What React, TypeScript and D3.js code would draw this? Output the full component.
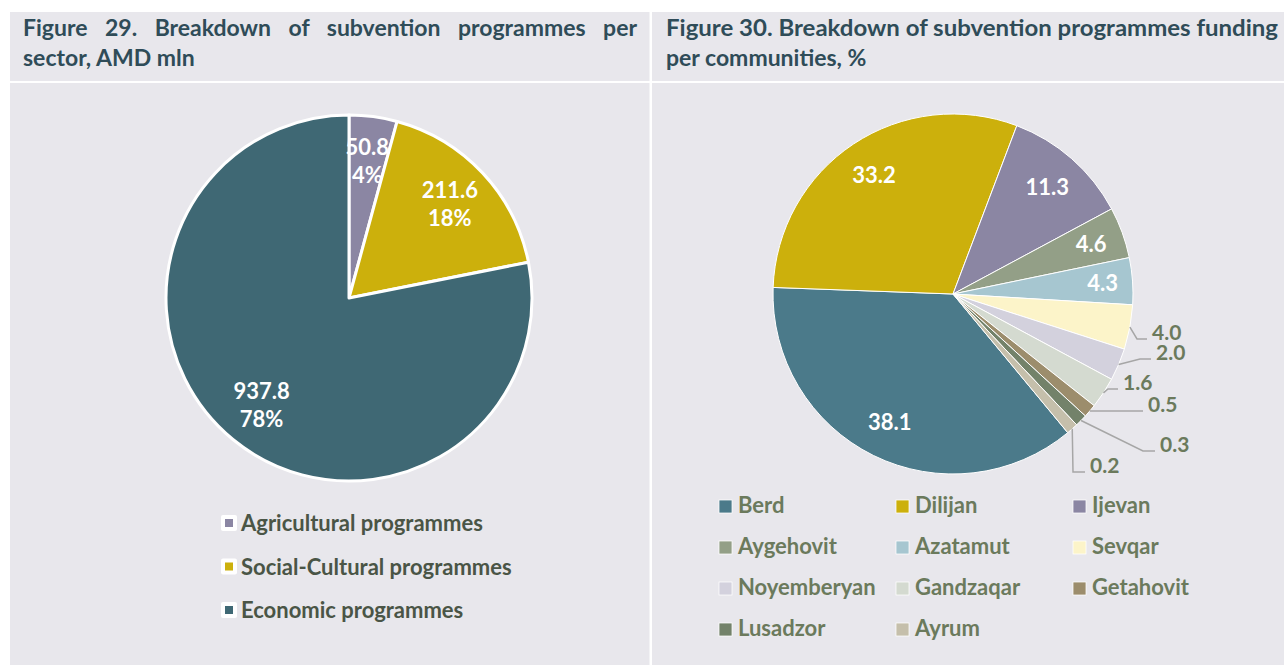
import React, { useEffect, useRef } from 'react'
import * as d3 from 'd3'

// Figure 29 - subvention programmes per sector, AMD mln
const sectors = ['Agricultural programmes', 'Social-Cultural programmes', 'Economic programmes']
const sectorValues = [50.8, 211.6, 937.8]
const sectorPercents = ['4%', '18%', '78%']
const sectorColors = ['#8b86a3', '#ccb00c', '#3f6874']

// Figure 30 - funding per community, %
const communities = ['Berd', 'Dilijan', 'Ijevan', 'Aygehovit', 'Azatamut', 'Sevqar',
  'Noyemberyan', 'Gandzaqar', 'Getahovit', 'Lusadzor', 'Ayrum']
const communityLabels = ['38.1', '33.2', '11.3', '4.6', '4.3', '4.0', '2.0', '1.6', '0.5', '0.3', '0.2']
// slice sizes as they are drawn in the picture (small slices are drawn wider than their labels say)
const communityShares = [36.6, 30.2, 11.4, 4.6, 4.2, 4.0, 2.9, 2.8, 1.2, 1.1, 1.05]
const communityColors = ['#4b7a8a', '#ccb00c', '#8b86a3', '#939f87', '#a6c6d0', '#fcf4c9',
  '#d3d1dd', '#d4dad0', '#9c8d6c', '#73826a', '#c5bfab']

const titles = [
  ['Figure 29. Breakdown of subvention programmes per', 'sector, AMD mln'],
  ['Figure 30. Breakdown of subvention programmes funding', 'per communities, %'],
]

const W = 1284
const H = 665
const font = "Lato, 'Open Sans', sans-serif"
const panelBg = '#e8e7ec'
const titleColor = '#2f4c58'
const greenText = '#6b7a5c'
const fs = 22

// layout for the callout labels of the small slices (relative to pie centre)
const callouts: { [k: number]: { tx: number; ty: number; ex: number } } = {
  5: { tx: 199, ty: 46, ex: 184 },
  6: { tx: 203, ty: 66, ex: 187 },
  7: { tx: 170, ty: 96, ex: 155 },
  8: { tx: 195, ty: 118, ex: 139 },
  9: { tx: 207, ty: 158, ex: 190 },
  10: { tx: 137, ty: 179, ex: 120 },
}
const insideR: { [k: number]: number } = { 0: 143, 1: 143, 2: 143, 3: 147, 4: 150 }

function SectorPie() {
  const cx = 349, cy = 298, r = 183
  const arcs = d3.pie<number>().sort(null)(sectorValues)
  const arcFn = d3.arc<d3.PieArcDatum<number>>().innerRadius(0).outerRadius(r)
  const labelArc = d3.arc<d3.PieArcDatum<number>>().innerRadius(138).outerRadius(138)
  return (
    <g>
      <g transform={`translate(${cx},${cy})`}>
        {arcs.map((a, i) => (
          <path key={i} d={arcFn(a) || ''} fill={sectorColors[i]} stroke="#fff" strokeWidth={3} strokeLinejoin="round" />
        ))}
        {arcs.map((a, i) => {
          const [lx, ly] = labelArc.centroid(a)
          return (
            <text key={i} x={lx} y={ly} textAnchor="middle" fill="#fff" fontSize={fs} fontWeight={700}>
              <tspan x={lx} y={ly - 6}>{sectorValues[i].toFixed(1)}</tspan>
              <tspan x={lx} y={ly + 22}>{sectorPercents[i]}</tspan>
            </text>
          )
        })}
      </g>
      {sectors.map((s, i) => {
        const by = 531 + i * 43.5
        return (
          <g key={s}>
            <rect x={221} y={by - 16} width={16} height={16} rx={2} fill="#fff" />
            <rect x={225} y={by - 12} width={8} height={8} fill={sectorColors[i]} />
            <text x={241} y={by} fill="#4a5546" fontSize={fs} fontWeight={700}>{s}</text>
          </g>
        )
      })}
    </g>
  )
}

function CommunityPie() {
  const cx = 953, cy = 294, r = 180
  const start = (140.4 * Math.PI) / 180
  const arcs = d3.pie<number>().sort(null).startAngle(start).endAngle(start + 2 * Math.PI)(communityShares)
  const arcFn = d3.arc<d3.PieArcDatum<number>>().innerRadius(0).outerRadius(r)
  const edgeArc = d3.arc<d3.PieArcDatum<number>>().innerRadius(r).outerRadius(r)
  return (
    <g>
      <g transform={`translate(${cx},${cy})`}>
        {arcs.map((a, i) => (
          <path key={i} d={arcFn(a) || ''} fill={communityColors[i]} stroke="#fff" strokeWidth={1} />
        ))}
        {arcs.map((a, i) => {
          if (insideR[i] !== undefined) {
            const la = d3.arc<d3.PieArcDatum<number>>().innerRadius(insideR[i]).outerRadius(insideR[i])
            const [lx, ly] = la.centroid(a)
            return (
              <text key={i} x={lx} y={ly + 8} textAnchor="middle" fill="#fff" fontSize={fs} fontWeight={700}>
                {communityLabels[i]}
              </text>
            )
          }
          const c = callouts[i]
          const [sx, sy] = edgeArc.centroid(a)
          const line = d3.line()([[sx, sy], [c.ex, c.ty - 1], [c.tx - 5, c.ty - 1]])
          return (
            <g key={i}>
              <path d={line || ''} fill="none" stroke="#a6a6a6" strokeWidth={1.5} />
              <text x={c.tx} y={c.ty} fill={greenText} fontSize={21} fontWeight={700}>{communityLabels[i]}</text>
            </g>
          )
        })}
      </g>
      {communities.map((name, i) => {
        const col = i % 3
        const row = Math.floor(i / 3)
        const x = 719 + col * 177
        const by = 513 + row * 41
        return (
          <g key={name}>
            <rect x={x} y={by - 13} width={13} height={13} fill={communityColors[i]} stroke="#fff" strokeWidth={0.75} />
            <text x={x + 19} y={by} fill={greenText} fontSize={fs} fontWeight={700}>{name}</text>
          </g>
        )
      })}
    </g>
  )
}

// first title line: justified (word spacing) or stretched to the given width
function TitleLine({ x, y, width, text, mode }: { x: number; y: number; width: number; text: string; mode: 'words' | 'glyphs' }) {
  const ref = useRef<SVGTextElement>(null)
  useEffect(() => {
    const el = ref.current
    if (!el) return
    const len = el.getComputedTextLength()
    const gaps = text.split(' ').length - 1
    if (mode === 'words' && len < width) {
      el.setAttribute('word-spacing', String((width - len) / gaps))
    } else {
      el.setAttribute('textLength', String(width))
      el.setAttribute('lengthAdjust', 'spacingAndGlyphs')
    }
  }, [text, width, mode])
  return (
    <text ref={ref} x={x} y={y} fill={titleColor} fontSize={23} fontWeight={700}>{text}</text>
  )
}

export default function App() {
  return (
    <div style={{ position: 'absolute', left: 0, top: 0, width: W, height: H }}>
      <svg width={W} height={H} style={{ display: 'block', fontFamily: font }}>
        <rect width={W} height={H} fill="#fff" />
        <rect x={10} y={12} width={639.5} height={69} fill={panelBg} />
        <rect x={652} y={12} width={W - 652} height={69} fill={panelBg} />
        <rect x={10} y={83} width={639.5} height={H - 83} fill={panelBg} />
        <rect x={652} y={83} width={W - 652} height={H - 83} fill={panelBg} />

        <TitleLine x={23} y={36} width={614} text={titles[0][0]} mode="words" />
        <text x={23} y={66} fill={titleColor} fontSize={23} fontWeight={700}>{titles[0][1]}</text>
        <TitleLine x={666} y={36} width={612} text={titles[1][0]} mode="glyphs" />
        <text x={666} y={66} fill={titleColor} fontSize={23} fontWeight={700}>{titles[1][1]}</text>

        <SectorPie />
        <CommunityPie />
      </svg>
    </div>
  )
}
